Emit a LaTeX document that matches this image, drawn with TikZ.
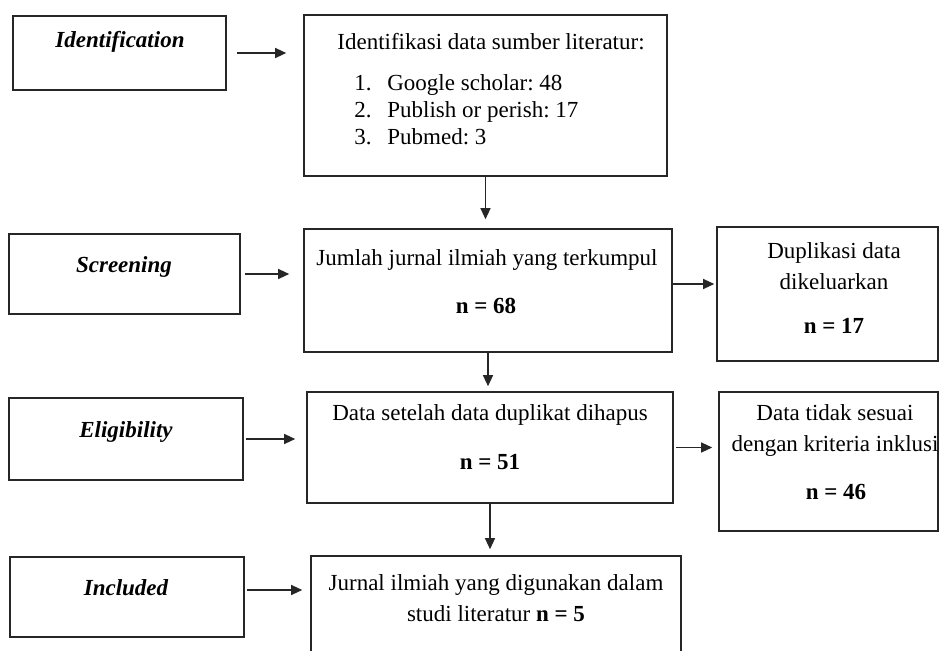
\documentclass[tikz,border=0pt]{standalone}
\usepackage{fontspec}
\setmainfont{Liberation Serif}
\usetikzlibrary{arrows.meta, fit}
\frenchspacing

\begin{document}
\begin{tikzpicture}[x=0.5pt, y=-0.5pt, font=\fontsize{11.5}{13.5}\selectfont,
        box/.style={draw=black!85, line width=0.8pt, inner sep=0pt},
        stage/.style={font=\fontsize{11.5}{13.5}\selectfont\bfseries\itshape},
        flow/.style={-{Triangle[length=5.5pt, width=5pt]}, line width=0.6pt, draw=black!85}]
        \clip (0,0) rectangle (940,651);
        % stage boxes on the left
        \node[box, fit={(13,16) (226,90)}] (ident) {};
        \node[box, fit={(9,234) (240,314)}] (screen) {};
        \node[box, fit={(9,398) (243,480)}] (elig) {};
        \node[box, fit={(10,557) (244,637)}] (incl) {};
        % main column
        \node[box, fit={(304,15) (667,176)}] (idsrc) {};
        \node[box, fit={(304,229) (672,352)}] (jumlah) {};
        \node[box, fit={(307,392) (673,503)}] (datas) {};
        \node[box, fit={(311,556) (681,700)}] (jurnal) {};
        % side boxes
        \node[box, fit={(717,227) (938,361)}] (dupl) {};
        \node[box, fit={(719,392) (938,531)}] (tidak) {};
        % texts
        \node[stage] (identtxt) at (120,42) {Identification};
        \node[stage] (screentxt) at (124,267) {Screening};
        \node[stage] (eligtxt) at (126,432) {Eligibility};
        \node[stage] (incltxt) at (126,588) {Included};
        \node (idsrctxt) at (491,42) {Identifikasi data sumber literatur:};
        \node[anchor=west, align=left, inner sep=0pt] (srclist) at (354,110)
            {\makebox[16.5pt][l]{1.}Google scholar: 48\\
             \makebox[16.5pt][l]{2.}Publish or perish: 17\\
             \makebox[16.5pt][l]{3.}Pubmed: 3};
        \node (jumlahtxt) at (487,260) {Jumlah jurnal ilmiah yang terkumpul};
        \node (jumlahn) at (486,306) {\textbf{n = 68}};
        \node[align=center] (dupltxt) at (834,266) {Duplikasi data\\[2pt]dikeluarkan};
        \node (dupln) at (834,326) {\textbf{n = 17}};
        \node (datastxt) at (490,415) {Data setelah data duplikat dihapus};
        \node (datasn) at (490,462) {\textbf{n = 51}};
        \node[align=center] (tidaktxt) at (835,431) {Data tidak sesuai\\[2pt]dengan kriteria inklusi};
        \node (tidakn) at (836,492) {\textbf{n = 46}};
        \node[align=center] (jurnaltxt) at (496,598) {Jurnal ilmiah yang digunakan dalam\\[2pt]studi literatur \textbf{n = 5}};
        % arrows
        \draw[flow, shorten <=5pt, shorten >=8.5pt] (ident.east) -- (ident.east -| idsrc.west);
        \draw[flow, shorten <=2pt, shorten >=7pt] (screen.east) -- (screen.east -| jumlah.west);
        \draw[flow, shorten <=1pt, shorten >=5.5pt] (elig.east) -- (elig.east -| datas.west);
        \draw[flow, shorten <=1pt, shorten >=4pt] ([yshift=3.5pt]incl.east) -- ([yshift=3.5pt]incl.east -| jurnal.west);
        \draw[flow, shorten >=4.5pt] (idsrc.south) -- (idsrc.south |- jumlah.north);
        \draw[flow, shorten >=2.5pt] (jumlah.south) -- (jumlah.south |- datas.north);
        \draw[flow, shorten >=3pt] (datas.south) -- (datas.south |- jurnal.north);
        \draw[flow, shorten >=1pt] ([yshift=3.25pt]jumlah.east) -- ([yshift=3.25pt]jumlah.east -| dupl.west);
        \draw[flow, shorten <=1pt, shorten >=3pt] (datas.east) -- (datas.east -| tidak.west);
    \end{tikzpicture}
\end{document}
